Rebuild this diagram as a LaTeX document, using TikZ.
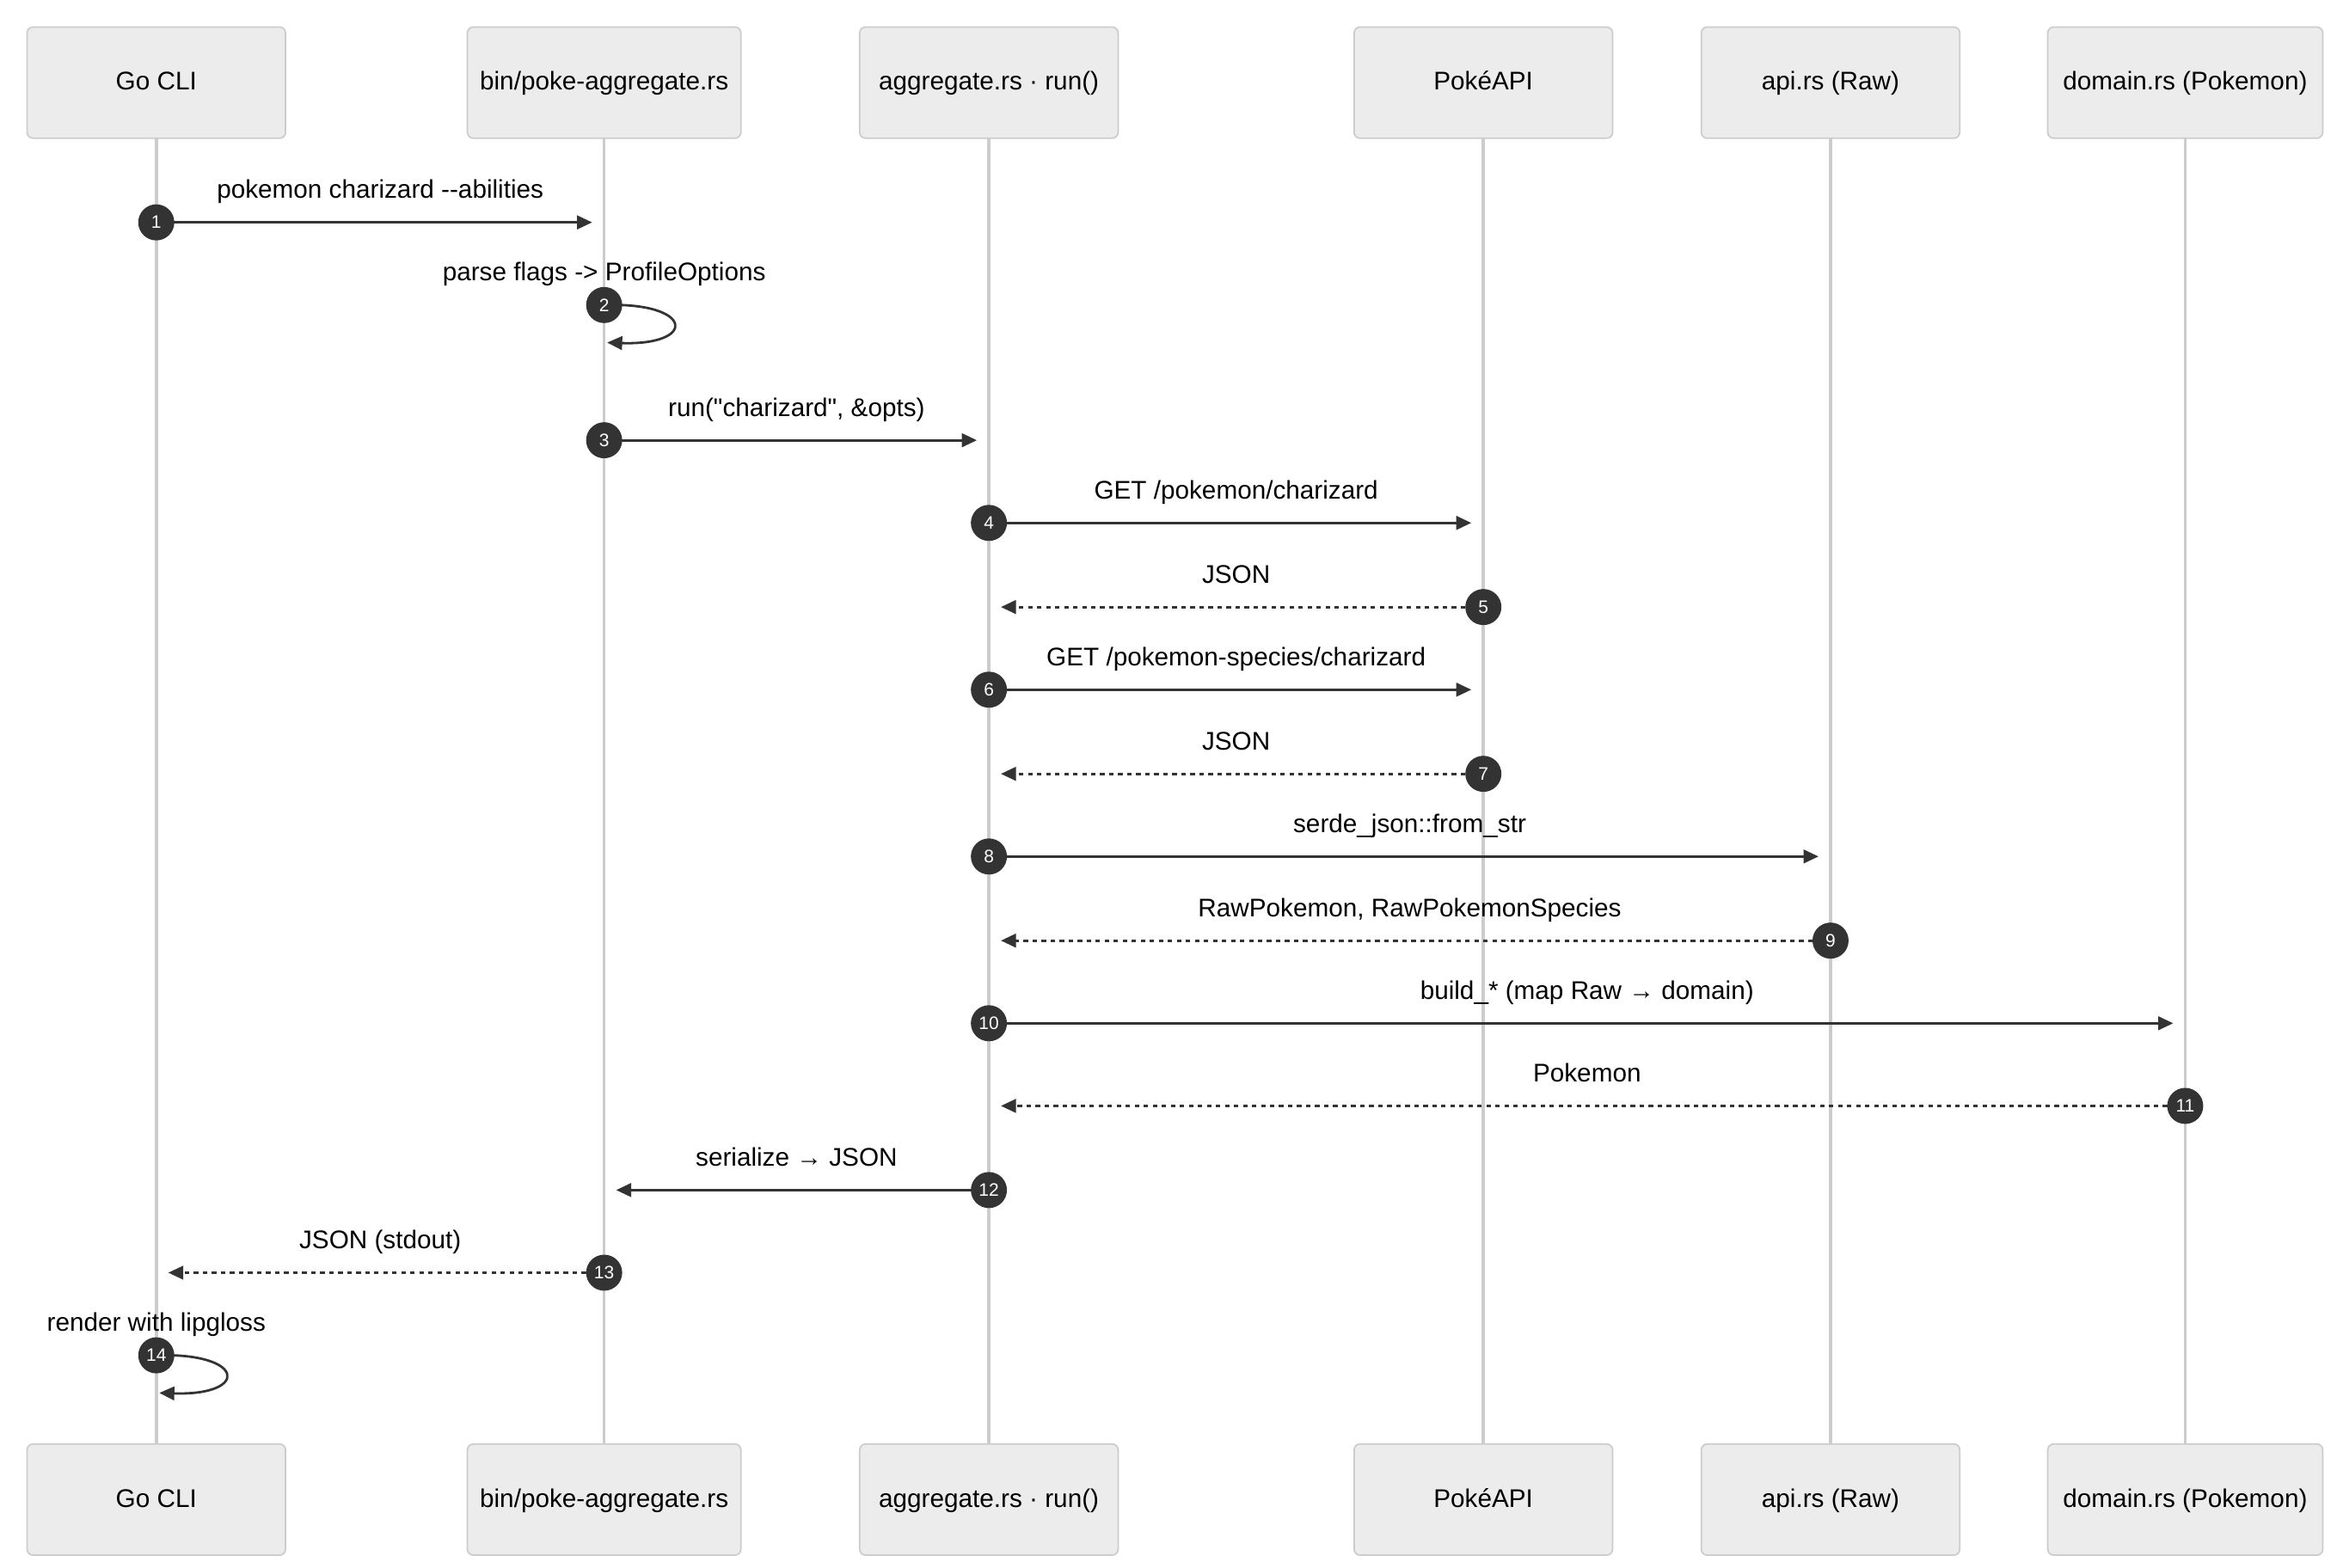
\documentclass[tikz,border=0pt]{standalone}
\usepackage{fontspec}
\setmainfont{Liberation Sans}
\usetikzlibrary{arrows.meta,calc}
\definecolor{boxfill}{HTML}{ECECEC}
\definecolor{boxline}{HTML}{CCCCCC}
\definecolor{ink}{HTML}{333333}
\newcommand{\binname}{bin/poke-aggregate.rs}
\tikzset{
  actor/.style={draw=boxline,fill=boxfill,rounded corners=2pt,minimum height=37pt,inner sep=0pt,text height=6.5pt,text depth=1.5pt,font=\fontsize{8.5}{10}\selectfont,text=black,line width=0.5pt},
  life/.style={draw=boxline,line width=1pt},
  msg/.style={draw=ink,line width=0.8pt,-{Triangle[length=5pt,width=4.5pt]}},
  ret/.style={msg,dash pattern=on 1.5pt off 1.5pt},
  num/.style={circle,fill=ink,text=white,inner sep=0pt,minimum size=12pt,font=\fontsize{6}{6}\selectfont},
  lbl/.style={font=\fontsize{8.5}{10}\selectfont,text=black,inner sep=1pt}
}
\begin{document}
\begin{tikzpicture}[x=0.5pt,y=-0.5pt]
\useasboundingbox (0,0) rectangle (1555,1043);
% lifelines
\foreach \n/\x/\w/\t in {a/104/172/Go CLI, b/402/182/\binname, c/658/172/aggregate.rs · run(), d/987/172/PokéAPI, e/1218/172/api.rs (Raw), f/1454/183/domain.rs (Pokemon)}{
  \coordinate (\n) at (\x,0);
  \draw[life] (\x,92) -- (\x,961);
  \node[actor,minimum width=\w*0.5pt] (\n top) at (\x,55) {\t};
  \node[actor,minimum width=\w*0.5pt] (\n bot) at (\x,998) {\t};
}
% messages: from, to, y, label, style, number
\foreach \f/\g/\y/\l/\s/\k in {
  a/b/148/{pokemon charizard -{}-abilities}/msg/1,
  b/c/293/{run(\textquotedbl charizard\textquotedbl, \&opts)}/msg/3,
  c/d/348/{GET /pokemon/charizard}/msg/4,
  d/c/404/{JSON}/ret/5,
  c/d/459/{GET /pokemon-species/charizard}/msg/6,
  d/c/515/{JSON}/ret/7,
  c/e/570/{serde\_json::from\_str}/msg/8,
  e/c/626/{RawPokemon, RawPokemonSpecies}/ret/9,
  c/f/681/{build\_* (map Raw → domain)}/msg/10,
  f/c/736/{Pokemon}/ret/11,
  c/b/792/{serialize → JSON}/msg/12,
  b/a/847/{JSON (stdout)}/ret/13}{
  \coordinate (s\k) at ([yshift=-\y*0.5pt]\f);
  \coordinate (t\k) at ([yshift=-\y*0.5pt]\g);
  \draw[\s] (s\k) -- ($(t\k)!4pt!(s\k)$);
  \node[lbl,anchor=base] at ($(s\k)!0.5!(t\k)+(0,-16)$) {\l};
  \node[num] at (s\k) {\k};
}
% self messages
\foreach \f/\y/\l/\k in {b/203/{parse flags -> ProfileOptions}/2, a/902/{render with lipgloss}/14}{
  \coordinate (s\k) at ([yshift=-\y*0.5pt]\f);
  \draw[msg] (s\k) .. controls +(60,-2) and +(60,2) .. ($(s\k)+(2,25)$);
  \node[lbl,anchor=base] at ($(s\k)+(0,-16)$) {\l};
  \node[num] at (s\k) {\k};
}
\end{tikzpicture}
\end{document}
